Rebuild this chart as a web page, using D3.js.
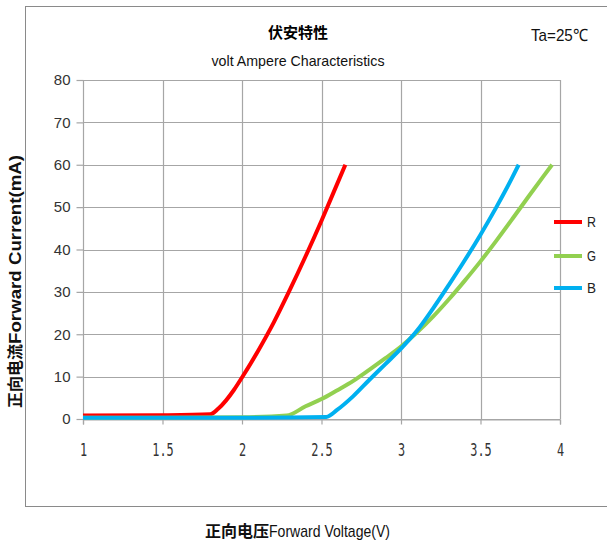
<!DOCTYPE html>
<html>
<head>
<meta charset="utf-8">
<script src="https://cdn.jsdelivr.net/npm/d3@7"></script>
<style>
  body { margin: 0; background: #fff; }
  svg { display: block; }
</style>
</head>
<body>
<div id="chart"></div>
<script>
const WIDTH = 607, HEIGHT = 547;
const SANS = "'Liberation Sans', Arial, sans-serif";
const CJK = "'Noto Sans CJK SC', sans-serif";

// tick values
const xTicks = [1, 1.5, 2, 2.5, 3, 3.5, 4];
const yTicks = [0, 10, 20, 30, 40, 50, 60, 70, 80];

// series: forward voltage (V) / forward current (mA)
const voltR = [1, 1.5, 1.8, 1.85, 1.9, 1.95, 2.0, 2.1, 2.2, 2.3, 2.4, 2.5, 2.6, 2.65];
const currR = [0.8, 0.9, 1.1, 2.4, 4.4, 6.9, 9.8, 16, 22.8, 30.4, 38.4, 46.8, 55.6, 60];

const voltG = [1, 1.5, 2.0, 2.28, 2.4, 2.5, 2.6, 2.7, 2.8, 2.9, 3.0, 3.1, 3.2, 3.3, 3.4, 3.5, 3.6, 3.7, 3.8, 3.9, 3.95];
const currG = [0.3, 0.3, 0.4, 0.8, 3, 4.7, 6.8, 9, 11.6, 14.3, 17.1, 20.4, 24.1, 28.2, 32.6, 37.2, 42.1, 47.2, 52.4, 57.5, 60];

const voltB = [1, 1.5, 2.0, 2.53, 2.6, 2.7, 2.8, 2.9, 3.0, 3.1, 3.2, 3.3, 3.4, 3.5, 3.6, 3.7, 3.74];
const currB = [0.3, 0.3, 0.3, 0.5, 2.2, 5.4, 9.2, 12.9, 16.6, 20.8, 26, 31.6, 37.4, 43.5, 50, 57, 60];

const seriesNames = ["R", "G", "B"];
const seriesColors = ["#ff0000", "#92d050", "#00b0f0"];

const series = [
    voltR.map((v, i) => ({ v: v, c: currR[i] })),
    voltG.map((v, i) => ({ v: v, c: currG[i] })),
    voltB.map((v, i) => ({ v: v, c: currB[i] }))
];

const svg = d3.select("#chart").append("svg")
    .attr("width", WIDTH)
    .attr("height", HEIGHT);

svg.append("rect")
    .attr("width", WIDTH).attr("height", HEIGHT)
    .attr("fill", "#fff");

// outer chart border (right side runs off the window)
svg.append("rect")
    .attr("x", 25.5).attr("y", 6.5)
    .attr("width", 620).attr("height", 500)
    .attr("fill", "none")
    .attr("stroke", "#8a8a8a");

const x = d3.scaleLinear().domain([1, 4]).range([83, 560]);
const y = d3.scaleLinear().domain([0, 80]).range([419, 80]);

// grid
const grid = svg.append("g").attr("stroke", "#a6a6a6").attr("stroke-width", 1.2);
grid.selectAll(".gx").data(xTicks).enter().append("line")
    .attr("x1", d => Math.round(x(d)) + 0.5).attr("x2", d => Math.round(x(d)) + 0.5)
    .attr("y1", y(80)).attr("y2", y(0));
grid.selectAll(".gy").data(yTicks).enter().append("line")
    .attr("y1", d => Math.round(y(d)) + 0.5).attr("y2", d => Math.round(y(d)) + 0.5)
    .attr("x1", x(1)).attr("x2", x(4));

// axes
const yAxis = svg.append("g")
    .attr("transform", `translate(${Math.round(x(1)) + 0.5},0)`)
    .call(d3.axisLeft(y).tickValues(yTicks).tickSize(7).tickPadding(6));
const xAxis = svg.append("g")
    .attr("transform", `translate(0,${Math.round(y(0)) + 0.5})`)
    .call(d3.axisBottom(x).tickValues(xTicks).tickSize(5).tickPadding(19).tickFormat(d3.format("")));

yAxis.select(".domain").remove();
xAxis.select(".domain").attr("stroke", "#a6a6a6").attr("stroke-width", 1.2);
yAxis.selectAll(".tick line").attr("stroke", "#a6a6a6").attr("stroke-width", 1.2);
xAxis.selectAll(".tick line").attr("stroke", "#a6a6a6").attr("stroke-width", 1.2);
yAxis.selectAll("text")
    .style("font-family", SANS)
    .style("font-size", "15px")
    .attr("fill", "#333");
// tall, narrow digits like the original's ming-style font
xAxis.selectAll("text")
    .style("font-family", "'DejaVu Sans Mono', monospace")
    .style("font-size", "17px")
    .attr("transform", "scale(0.7,1)")
    .attr("fill", "#333");

// curves
const line = d3.line()
    .x(d => x(d.v))
    .y(d => y(d.c))
    .curve(d3.curveMonotoneX);

svg.append("g").selectAll("path")
    .data(series)
    .enter()
    .append("path")
    .attr("d", line)
    .attr("fill", "none")
    .attr("stroke", (d, i) => seriesColors[i])
    .attr("stroke-width", 4)
    .attr("stroke-linejoin", "round");

// legend
const legend = svg.append("g").attr("transform", "translate(554, 222)");
const legendY = [0, 34, 66];
legend.selectAll("line").data(seriesNames).enter().append("line")
    .attr("x1", 0).attr("x2", 28)
    .attr("y1", (d, i) => legendY[i]).attr("y2", (d, i) => legendY[i])
    .attr("stroke", (d, i) => seriesColors[i])
    .attr("stroke-width", 4);
legend.selectAll("text").data(seriesNames).enter().append("text")
    .attr("x", 33)
    .attr("y", (d, i) => legendY[i])
    .attr("dy", "0.35em")
    .text(d => d)
    .style("font-family", SANS)
    .style("font-size", "15px")
    .attr("textLength", 9)
    .attr("lengthAdjust", "spacingAndGlyphs")
    .attr("fill", "#222");

// titles
svg.append("text")
    .attr("x", 298).attr("y", 38)
    .attr("text-anchor", "middle")
    .style("font-family", CJK)
    .style("font-weight", "bold")
    .style("font-size", "15px")
    .text("伏安特性");

svg.append("text")
    .attr("x", 298).attr("y", 66)
    .attr("text-anchor", "middle")
    .style("font-family", SANS)
    .style("font-size", "15px")
    .attr("textLength", 173)
    .attr("lengthAdjust", "spacingAndGlyphs")
    .attr("fill", "#111")
    .text("volt Ampere Characteristics");

svg.append("text")
    .attr("x", 531).attr("y", 41)
    .style("font-family", SANS)
    .style("font-size", "17px")
    .attr("textLength", 57)
    .attr("lengthAdjust", "spacingAndGlyphs")
    .attr("fill", "#111")
    .text("Ta=25℃");

// x axis title
const xt = svg.append("text")
    .attr("x", 205).attr("y", 537)
    .attr("fill", "#111");
xt.append("tspan")
    .style("font-family", CJK).style("font-weight", "bold").style("font-size", "16px")
    .text("正向电压");
xt.append("tspan")
    .style("font-family", SANS).style("font-size", "17px")
    .attr("textLength", 121)
    .attr("lengthAdjust", "spacingAndGlyphs")
    .text("Forward Voltage(V)");

// y axis title (runs bottom to top, from y=408 up to y=155)
const yt = svg.append("text")
    .attr("transform", "translate(21, 408) rotate(-90)")
    .attr("fill", "#111");
yt.append("tspan")
    .style("font-family", CJK).style("font-weight", "bold").style("font-size", "16px")
    .text("正向电流");
yt.append("tspan")
    .style("font-family", SANS).style("font-weight", "bold").style("font-size", "16px")
    .attr("textLength", 189)
    .attr("lengthAdjust", "spacingAndGlyphs")
    .text("Forward Current(mA)");
</script>
</body>
</html>
